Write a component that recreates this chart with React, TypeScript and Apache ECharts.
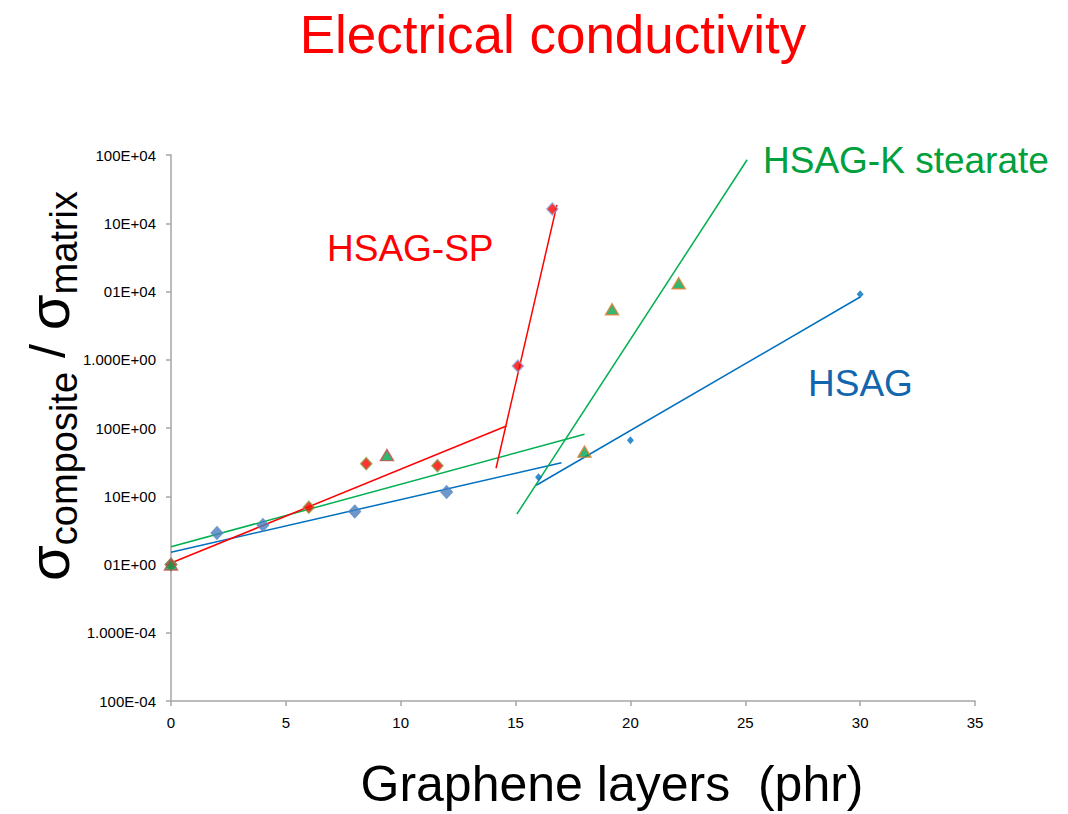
import React, { useEffect, useRef } from 'react';
import * as echarts from 'echarts';

// ---- data ----
const yTickLabels = ['100E-04', '1.000E-04', '01E+00', '10E+00', '100E+00', '1.000E+00', '01E+04', '10E+04', '100E+04'];

const hsagBigX = [0, 2, 4, 8, 12];
const hsagBigY = [0.01, 0.029, 0.038, 0.06, 0.115];
const hsagSmallX = [16, 20, 30];
const hsagSmallY = [0.19, 0.66, 91];

const spX = [0, 6, 8.5, 11.6, 15.1, 16.6];
const spY = [0.01, 0.069, 0.3, 0.28, 8.1, 1620];

const ksX = [0, 9.4, 18, 19.2, 22.1];
const ksY = [0.01, 0.4, 0.45, 55, 132];

const hsagFit1X = [0, 17.0];
const hsagFit1Y = [0.0151, 0.31];
const hsagFit2X = [15.9, 30.0];
const hsagFit2Y = [0.145, 83];
const spFit1X = [0, 14.6];
const spFit1Y = [0.0105, 1.07];
const spFit2X = [14.15, 16.8];
const spFit2Y = [0.257, 1862];
const ksFit1X = [0, 18.0];
const ksFit1Y = [0.0182, 0.81];
const ksFit2X = [15.06, 25.08];
const ksFit2Y = [0.055, 8510];

const zip = (xs: number[], ys: number[]) => xs.map((x, i) => [x, ys[i]]);

const FONT = "'Liberation Sans', Arial, sans-serif";
const NARROW = "'Liberation Sans Narrow', 'Liberation Sans', Arial, sans-serif";

const fitLine = (name: string, xs: number[], ys: number[], color: string) => ({
  name,
  type: 'line',
  data: zip(xs, ys),
  symbol: 'none',
  lineStyle: { color, width: 1.5 },
  z: 2,
  silent: true,
});

export default function App() {
  const ref = useRef<HTMLDivElement>(null);
  useEffect(() => {
    if (!ref.current) return;
    const chart = echarts.init(ref.current, null, { renderer: 'svg' });
    const option: any = {
      animation: false,
      backgroundColor: '#ffffff',
      grid: { left: 171, right: 93, top: 155, bottom: 113, outerBoundsMode: 'none', containLabel: false },
      xAxis: {
        type: 'value',
        min: 0,
        max: 35,
        interval: 5,
        axisLine: { show: true, lineStyle: { color: '#A6A6A6', width: 1.5 } },
        axisTick: { show: true, inside: false, length: 5, lineStyle: { color: '#A6A6A6', width: 1.5 } },
        splitLine: { show: false },
        axisLabel: { color: '#000', fontSize: 15, fontFamily: NARROW, margin: 14 },
      },
      yAxis: {
        type: 'log',
        logBase: 10,
        min: 1e-4,
        max: 1e4,
        splitNumber: 8,
        axisLine: { show: true, lineStyle: { color: '#A6A6A6', width: 1.5 } },
        axisTick: { show: true, inside: false, length: 5, lineStyle: { color: '#A6A6A6', width: 1.5 } },
        splitLine: { show: false },
        axisLabel: {
          color: '#000',
          fontSize: 15,
          fontFamily: NARROW,
          margin: 15,
          formatter: (v: number) => yTickLabels[Math.round(Math.log10(v)) + 4] ?? '',
        },
      },
      series: [
        fitLine('HSAG fit 1', hsagFit1X, hsagFit1Y, '#0070C0'),
        fitLine('HSAG fit 2', hsagFit2X, hsagFit2Y, '#0070C0'),
        fitLine('HSAG-K stearate fit 1', ksFit1X, ksFit1Y, '#00B050'),
        fitLine('HSAG-K stearate fit 2', ksFit2X, ksFit2Y, '#00B050'),
        fitLine('HSAG-SP fit 1', spFit1X, spFit1Y, '#FF0000'),
        fitLine('HSAG-SP fit 2', spFit2X, spFit2Y, '#FF0000'),
        {
          name: 'HSAG',
          type: 'scatter',
          data: zip(hsagBigX, hsagBigY),
          symbol: 'diamond',
          symbolSize: [12, 13],
          itemStyle: { color: '#4A7EBB', borderColor: '#5B8BC7', borderWidth: 1 },
          z: 3,
        },
        {
          name: 'HSAG (2)',
          type: 'scatter',
          data: zip(hsagSmallX, hsagSmallY),
          symbol: 'diamond',
          symbolSize: [7, 8],
          itemStyle: { color: '#0070C0' },
          z: 3,
        },
        {
          name: 'HSAG-SP',
          type: 'scatter',
          data: spX.map((x, i) => ({
            value: [x, spY[i]],
            itemStyle: { borderColor: i >= 4 ? '#8EA4D8' : '#8A9A3C' },
          })),
          symbol: 'diamond',
          symbolSize: [11, 12],
          itemStyle: { color: '#FF0000', borderWidth: 1.5 },
          z: 4,
        },
        {
          name: 'HSAG-K stearate',
          type: 'scatter',
          data: ksX.map((x, i) => ({
            value: [x, ksY[i]],
            itemStyle: { borderColor: i >= 2 ? '#E07A2E' : '#C0504D' },
          })),
          symbol: 'triangle',
          symbolSize: [13, 11],
          itemStyle: { color: '#00A651', borderWidth: 1.5 },
          z: 5,
        },
      ],
      graphic: [
        {
          type: 'text',
          x: 553,
          y: 34,
          style: {
            text: 'Electrical conductivity',
            fill: '#FF0000',
            font: `53px ${FONT}`,
            textAlign: 'center',
            textVerticalAlign: 'middle',
          },
        },
        {
          type: 'text',
          x: 612,
          y: 784,
          style: {
            text: 'Graphene layers  (phr)',
            fill: '#000',
            font: `50px ${FONT}`,
            textAlign: 'center',
            textVerticalAlign: 'middle',
          },
        },
        {
          type: 'text',
          x: 327,
          y: 248,
          style: { text: 'HSAG-SP', fill: '#FF0000', font: `37px ${FONT}`, textAlign: 'left', textVerticalAlign: 'middle' },
        },
        {
          type: 'text',
          x: 763,
          y: 160,
          style: { text: 'HSAG-K stearate', fill: '#00A03C', font: `37px ${FONT}`, textAlign: 'left', textVerticalAlign: 'middle' },
        },
        {
          type: 'text',
          x: 808,
          y: 383,
          style: { text: 'HSAG', fill: '#1266AE', font: `37px ${FONT}`, textAlign: 'left', textVerticalAlign: 'middle' },
        },
        {
          type: 'text',
          x: 48,
          y: 386,
          rotation: Math.PI / 2,
          style: {
            text: '{s|σ}{sub|composite}{sl| / }{s|σ}{sub|matrix}',
            fill: '#000',
            textAlign: 'center',
            textVerticalAlign: 'middle',
            rich: {
              s: { fontSize: 58, fontFamily: FONT, verticalAlign: 'middle', fill: '#000' },
              sl: { fontSize: 50, fontFamily: FONT, verticalAlign: 'middle', fill: '#000' },
              sub: { fontSize: 38, fontFamily: FONT, verticalAlign: 'middle', padding: [32, 0, 0, 0], fill: '#000' },
            },
          },
        },
      ],
    };
    chart.setOption(option);
    return () => chart.dispose();
  }, []);
  return (
    <div
      ref={ref}
      style={{ position: 'fixed', left: 0, top: 0, width: 1068, height: 814, background: '#fff' }}
    />
  );
}
